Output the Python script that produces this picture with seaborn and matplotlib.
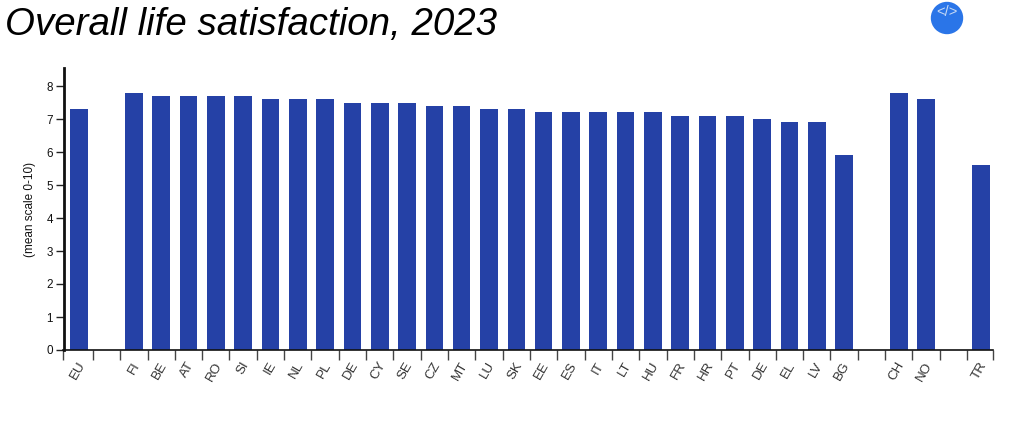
import pandas as pd
import numpy as np
import matplotlib
matplotlib.use('Agg')
import matplotlib.pyplot as plt
import seaborn as sns
from matplotlib.patches import Circle
from matplotlib.transforms import ScaledTranslation

countries = ['EU', '', 'FI', 'BE', 'AT', 'RO', 'SI', 'IE', 'NL', 'PL', 'DE', 'CY', 'SE', 'CZ', 'MT', 'LU', 'SK',
             'EE', 'ES', 'IT', 'LT', 'HU', 'FR', 'HR', 'PT', 'DE', 'EL', 'LV', 'BG', '', 'CH', 'NO', '', 'TR']
values = [7.3, None, 7.8, 7.7, 7.7, 7.7, 7.7, 7.6, 7.6, 7.6, 7.5, 7.5, 7.5, 7.4, 7.4, 7.3, 7.3,
          7.2, 7.2, 7.2, 7.2, 7.2, 7.1, 7.1, 7.1, 7.0, 6.9, 6.9, 5.9, None, 7.8, 7.6, None, 5.6]
yticks = [0, 1, 2, 3, 4, 5, 6, 7, 8]

sns.set_style('white')
plt.rcParams['font.family'] = ['Liberation Sans', 'DejaVu Sans']

# DE shows up twice, so the bars are keyed on the row number
df = pd.DataFrame({'slot': [str(i) for i in range(len(countries))], 'value': values})

W, H = 1024, 436
fig = plt.figure(figsize=(W / 100, H / 100), dpi=100)
ax = fig.add_axes([63.5 / W, 1 - 350 / H, (992.5 - 63.5) / W, (350 - 68) / H])

sns.barplot(data=df, x='slot', y='value', color='#2541A6', saturation=1, width=0.645, linewidth=0, ax=ax)

# the first and last bands are slightly cut by the axis ends in the original
xmin, xmax = -0.575, 33.43
ax.set_xlim(xmin, xmax)
ax.set_ylim(0, 282 / 33)
ax.set_xlabel('')
ax.set_ylabel('')

ax.set_yticks(yticks)
ax.tick_params(axis='y', length=6, width=1, color='#222222', pad=1.5, labelsize=8.4, labelcolor='#111111', left=True)

# ticks sit on the band edges, labels on the band centres
ax.set_xticks(range(len(countries)))
ax.set_xticklabels(countries, rotation=60, ha='right', va='top', rotation_mode='anchor',
                   fontsize=9.6, color='#333333')
ax.tick_params(axis='x', which='major', length=0, pad=7)
edges = np.arange(0.5, len(countries) - 1)
ax.set_xticks(np.r_[xmin, edges, xmax], minor=True)
ax.tick_params(axis='x', which='minor', length=7, width=1, color='#444444', bottom=True)

# nudge the rotated labels left a little
shift = ScaledTranslation(-1.5 / 72, 0, fig.dpi_scale_trans)
for lab in ax.get_xticklabels():
    lab.set_transform(lab.get_transform() + shift)

sns.despine(ax=ax)
ax.spines['left'].set_linewidth(2)
ax.spines['left'].set_color('#111111')
ax.spines['bottom'].set_linewidth(1.2)
ax.spines['bottom'].set_color('#111111')

fig.text(30 / W, 1 - 209 / H, '(mean scale 0-10)', rotation=90, ha='center', va='center', fontsize=8.5, color='#111111')
fig.text(5 / W, 1 - 35 / H, 'Overall life satisfaction, 2023', style='italic', fontsize=27.7, color='black', va='baseline')

# embed button, top right
fig.add_artist(Circle((947, H - 18), 15.5, transform=None, color='#2A75E8'))
fig.text(947 / W, 1 - 11.5 / H, '</>', ha='center', va='center', fontsize=10.5, color='#C5D9F5')

fig.savefig('out.png', dpi=100)
